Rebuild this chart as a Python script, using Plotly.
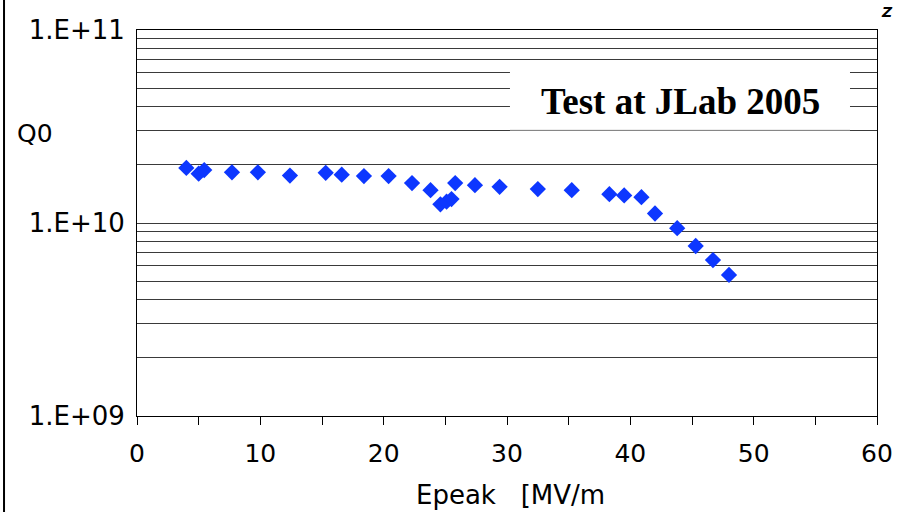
import plotly.graph_objects as go

# Data
epeak = [4.0, 5.0, 5.45, 7.7, 9.8, 12.4, 15.3, 16.6, 18.4, 20.4, 22.3, 23.8, 24.6, 25.1, 25.5,
         25.8, 27.4, 29.4, 32.5, 35.25, 38.3, 39.5, 40.9, 42.0, 43.8, 45.3, 46.7, 48.0]
q0 = [1.93e10, 1.80e10, 1.88e10, 1.83e10, 1.83e10, 1.76e10, 1.82e10, 1.78e10, 1.75e10, 1.75e10,
      1.61e10, 1.48e10, 1.25e10, 1.29e10, 1.33e10, 1.61e10, 1.57e10, 1.54e10, 1.50e10, 1.48e10,
      1.41e10, 1.39e10, 1.36e10, 1.12e10, 9.4e9, 7.6e9, 6.43e9, 5.38e9]

x_ticks = [0, 5, 10, 15, 20, 25, 30, 35, 40, 45, 50, 55, 60]
x_labels = ["0", "", "10", "", "20", "", "30", "", "40", "", "50", "", "60"]
y_grid = [m * 10 ** e for e in (9, 10) for m in range(1, 10)] + [1e11]
y_labels = ["1.E+09" if v == 1e9 else "1.E+10" if v == 1e10 else "1.E+11" if v == 1e11 else ""
            for v in y_grid]

title_text = "Test at JLab 2005"
x_title = "Epeak\u00a0\u00a0 [MV/m"
y_title = "Q0"

fig = go.Figure()
fig.add_trace(go.Scatter(
    x=epeak, y=q0, mode="markers",
    marker=dict(symbol="diamond", size=12.5, color="#0d37ff", line=dict(width=0)),
    showlegend=False,
))

fig.update_layout(
    width=919, height=512,
    margin=dict(l=137, r=42, t=30, b=96),
    paper_bgcolor="white", plot_bgcolor="white",
    xaxis=dict(
        range=[0, 60], tickvals=x_ticks, ticktext=x_labels,
        ticks="outside", ticklen=8, tickcolor="black", tickwidth=1,
        showgrid=False, zeroline=False,
        showline=True, linecolor="black", linewidth=1, mirror=True,
        tickfont=dict(family="DejaVu Sans", size=25, color="black"), ticklabelstandoff=7,
    ),
    yaxis=dict(
        type="log", range=[9, 11], tickvals=y_grid, ticktext=y_labels,
        ticks="", showgrid=True, gridcolor="#3a3a3a", gridwidth=1,
        zeroline=False, showline=True, linecolor="black", linewidth=1, mirror=True,
        tickfont=dict(family="DejaVu Sans", size=26, color="black"), ticklabelstandoff=6,
    ),
    shapes=[
        dict(type="rect", xref="paper", yref="paper", x0=0.504, x1=0.9635, y0=0.741, y1=0.9016,
             fillcolor="white", line=dict(width=0), layer="above"),
        dict(type="line", xref="paper", yref="paper", x0=0.504, x1=0.9635, y0=0.741, y1=0.741,
             line=dict(color="#dddddd", width=1), layer="above"),
        dict(type="line", xref="paper", yref="paper", x0=-0.1797, x1=-0.1797, y0=-0.2487, y1=1.08,
             line=dict(color="black", width=2)),
    ],
    annotations=[
        dict(text="<b>" + title_text + "</b>", xref="paper", yref="paper", x=0.734, y=0.816,
             xanchor="center", yanchor="middle",
             showarrow=False, font=dict(family="Liberation Serif", size=37, color="black")),
        dict(text=y_title, xref="paper", yref="paper", x=-0.1378, y=0.733, xanchor="center",
             yanchor="middle", showarrow=False, font=dict(family="DejaVu Sans", size=25, color="black")),
        dict(text=x_title, xref="paper", yref="paper", x=0.5054, y=-0.2055, xanchor="center",
             yanchor="middle", showarrow=False, font=dict(family="DejaVu Sans", size=26, color="black")),
        dict(text="<b><i>Z</i></b>", xref="paper", yref="paper", x=1.0135, y=1.047, xanchor="center",
             yanchor="middle", showarrow=False, font=dict(family="DejaVu Sans", size=14, color="black")),
    ],
)

fig.write_html("out.html")
